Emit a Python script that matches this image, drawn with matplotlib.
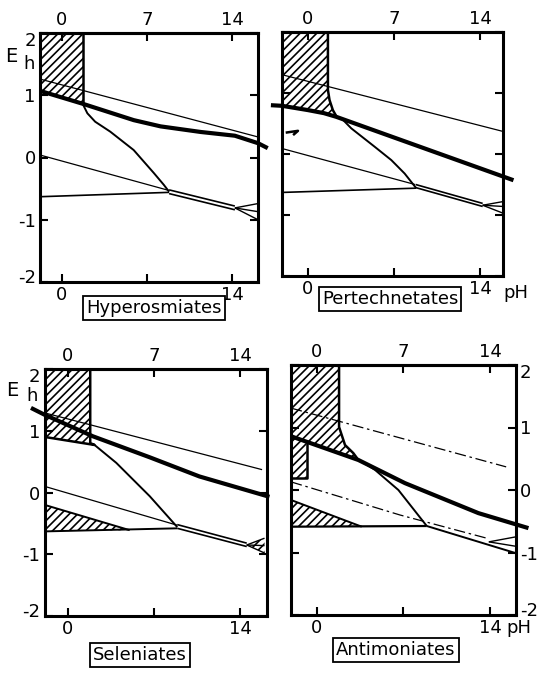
"""
Eh-pH stability diagrams of four oxo-anion families (scan redraw).
"""

import matplotlib.pyplot as plt
import matplotlib.transforms as mtransforms
from matplotlib.patches import Polygon

W, H = 537, 673

PH_TICKS = [0, 7, 14]
EH_TICKS = [-2, -1, 0, 1, 2]
EH_LABELS = ["-2", "-1", "0", "1", "2"]

# ---- Hyperosmiates (top left) ----
hyp_hatch_ph = [-1.8, 1.76, 1.76, -1.8]
hyp_hatch_eh = [2.0, 2.0, 0.84, 1.07]
hyp_thick_ph = [-1.8, 1.76, 5.9, 8.1, 11.4, 14.2, 16.1, 16.9]
hyp_thick_eh = [1.07, 0.86, 0.60, 0.50, 0.41, 0.35, 0.23, 0.15]
hyp_o2_ph = [-1.8, 16.1]
hyp_o2_eh = [1.26, 0.33]
hyp_h2_ph = [-1.8, 8.8]
hyp_h2_eh = [0.04, -0.53]
hyp_flat_ph = [-1.8, 8.8]
hyp_flat_eh = [-0.63, -0.56]
hyp_curve_ph = [1.76, 2.09, 2.73, 3.97, 5.89, 7.55, 8.37, 8.8]
hyp_curve_eh = [0.84, 0.71, 0.575, 0.415, 0.12, -0.25, -0.44, -0.55]
hyp_band_ph = [8.8, 14.2]
hyp_band_hi = [-0.52, -0.78]
hyp_band_lo = [-0.58, -0.84]
hyp_fan_ph = [14.2, 16.1]
hyp_fan_eh = [-0.81, [-0.74, -0.87, -1.0]]

# ---- Pertechnetates (top right) ----
tc_hatch_ph = [-2.1, 1.63, 1.63, 1.76, 2.03, 2.31, 1.3, 0.0, -2.1]
tc_hatch_eh = [2.0, 2.0, 1.05, 0.885, 0.72, 0.62, 0.67, 0.72, 0.79]
tc_thick_ph = [-3.0, -2.1, 0.0, 1.3, 2.3, 16.7]
tc_thick_eh = [0.80, 0.79, 0.72, 0.67, 0.61, -0.43]
tc_o2_ph = [-2.1, 15.85]
tc_o2_eh = [1.30, 0.37]
tc_h2_ph = [-2.1, 8.7]
tc_h2_eh = [0.09, -0.50]
tc_flat_ph = [-2.1, 8.8]
tc_flat_eh = [-0.63, -0.56]
tc_curve_ph = [2.8, 3.53, 5.42, 6.78, 7.86, 8.8]
tc_curve_eh = [0.57, 0.42, 0.12, -0.10, -0.32, -0.56]
tc_band_ph = [8.75, 14.2]
tc_band_hi = [-0.50, -0.81]
tc_band_lo = [-0.55, -0.86]
tc_fan_ph = [14.2, 15.85]
tc_fan_eh = [-0.84, [-0.78, -0.86, -0.97]]
tc_hook_ph = [-1.8, -0.8, -1.2]
tc_hook_eh = [0.35, 0.38, 0.31]

# ---- Seleniates (bottom left) ----
se_hatch_ph = [-1.9, 1.82, 1.82, 2.17, -1.9]
se_hatch_eh = [2.0, 2.0, 0.80, 0.77, 0.90]
se_low_ph = [-1.9, 5.03, -1.9]
se_low_eh = [-0.20, -0.61, -0.63]
se_thick_ph = [-3.0, -1.9, 2.04, 6.66, 10.7, 16.4]
se_thick_eh = [1.37, 1.26, 0.91, 0.57, 0.26, -0.07]
se_o2_ph = [-1.9, 15.8]
se_o2_eh = [1.29, 0.37]
se_h2_ph = [-1.9, 8.9]
se_h2_eh = [0.10, -0.53]
se_flat_ph = [-1.9, 8.9]
se_flat_eh = [-0.63, -0.58]
se_curve_ph = [2.17, 3.94, 6.66, 8.9]
se_curve_eh = [0.77, 0.48, -0.06, -0.56]
se_band_ph = [8.9, 14.55]
se_band_hi = [-0.52, -0.82]
se_band_lo = [-0.58, -0.875]
se_fan_ph = [14.55, 16.0]
se_fan_eh = [-0.85, [-0.74, -0.86, -0.98]]

# ---- Antimoniates (bottom right) ----
sb_hatch_ph = [-2.07, 1.81, 1.81, 1.89, 2.29, 2.96, 3.37, -0.81, -0.81, -2.07]
sb_hatch_eh = [2.0, 2.0, 1.01, 0.96, 0.72, 0.59, 0.48, 0.77, 0.19, 0.19]
sb_low_ph = [-2.07, 3.64, -2.07]
sb_low_eh = [-0.16, -0.587, -0.587]
sb_thick_ph = [-2.07, 3.37, 7.13, 13.06, 17.1]
sb_thick_eh = [0.86, 0.48, 0.11, -0.37, -0.61]
sb_o2_ph = [-2.07, 15.3]
sb_o2_eh = [1.31, 0.37]
sb_h2_ph = [-2.07, 6.73, 13.9]
sb_h2_eh = [0.13, -0.40, -0.78]
sb_flat_ph = [-2.07, 8.89]
sb_flat_eh = [-0.587, -0.576]
sb_curve_ph = [3.6, 4.72, 6.6, 8.89]
sb_curve_eh = [0.46, 0.32, 0.0, -0.576]
sb_band_ph = [8.89, 16.07]
sb_band_lo = [-0.576, -1.01]
sb_fan_ph = [13.9, 16.07]
sb_fan_eh = [-0.83, [-0.75, -0.9]]

plt.rcParams["font.family"] = "DejaVu Sans"
plt.rcParams["hatch.linewidth"] = 1.2
plt.rcParams["hatch.color"] = "black"

fig = plt.figure(figsize=(W / 100, H / 100), dpi=100)
fig.patch.set_facecolor("white")


def make_axes(box, xlim, ylabels="left", bottom_labels=("0", "", "14")):
    x0, y0, x1, y1 = box
    ax = fig.add_axes([x0 / W, 1 - y1 / H, (x1 - x0) / W, (y1 - y0) / H])
    ax.set_xlim(*xlim)
    ax.set_ylim(-2, 2)
    ax.set_xticks(PH_TICKS)
    ax.set_xticklabels(bottom_labels)
    ax.set_yticks(EH_TICKS)
    ax.set_yticklabels(EH_LABELS)
    ax.tick_params(direction="in", length=6, width=1.5, labelsize=13,
                   right=True, pad=3,
                   labelleft=(ylabels == "left"), labelright=(ylabels == "right"))
    for s in ax.spines.values():
        s.set_linewidth(2.2)
    # the end labels sit a little inside the frame in the original
    labels = ax.get_yticklabels(which="major") if ylabels == "left" else ax.yaxis.get_ticklabels()
    if ylabels:
        ticks = ax.yaxis.get_major_ticks()
        for t, dy in ((ticks[0], 6), (ticks[-1], -6)):
            lab = t.label1 if ylabels == "left" else t.label2
            lab.set_transform(lab.get_transform() +
                              mtransforms.ScaledTranslation(0, dy / 100, fig.dpi_scale_trans))
    top = ax.secondary_xaxis("top")
    top.set_xticks(PH_TICKS)
    top.set_xticklabels(["0", "7", "14"])
    top.tick_params(direction="in", length=6, width=1.5, labelsize=13, pad=3)
    top.spines["top"].set_linewidth(2.2)
    return ax


def line(ax, ph, eh, lw=1.0, **kw):
    ax.plot(ph, eh, color="black", lw=lw, solid_capstyle="butt", **kw)


def hatch(ax, ph, eh):
    ax.add_patch(Polygon(list(zip(ph, eh)), closed=True, facecolor="none",
                         edgecolor="black", lw=0, hatch="////"))


def fan(ax, fan_ph, fan_eh, lw=1.0, fill=False):
    x0, x1 = fan_ph
    e0, ends = fan_eh
    for e in ends:
        line(ax, [x0, x1], [e0, e], lw=lw)
    if fill:
        hatch(ax, [x0, x1, x1], [e0, ends[0], ends[-1]])


# Hyperosmiates
ax1 = make_axes((40, 33, 258, 282), (-1.8, 16.1))
hatch(ax1, hyp_hatch_ph, hyp_hatch_eh)
line(ax1, [1.76, 1.76], [2.0, 0.84], lw=1.8)
line(ax1, hyp_o2_ph, hyp_o2_eh, lw=0.9)
line(ax1, hyp_h2_ph, hyp_h2_eh, lw=0.9)
line(ax1, hyp_flat_ph, hyp_flat_eh, lw=1.2)
line(ax1, hyp_curve_ph, hyp_curve_eh, lw=1.4)
line(ax1, hyp_band_ph, hyp_band_hi, lw=1.2)
line(ax1, hyp_band_ph, hyp_band_lo, lw=1.2)
fan(ax1, hyp_fan_ph, hyp_fan_eh)
line(ax1, hyp_thick_ph, hyp_thick_eh, lw=3.0, clip_on=False)

# Pertechnetates
ax2 = make_axes((282, 32, 503, 276), (-2.1, 15.85), ylabels=None)
hatch(ax2, tc_hatch_ph, tc_hatch_eh)
line(ax2, tc_hatch_ph[1:6], tc_hatch_eh[1:6], lw=1.8)
line(ax2, tc_o2_ph, tc_o2_eh, lw=0.9)
line(ax2, tc_h2_ph, tc_h2_eh, lw=0.9)
line(ax2, tc_flat_ph, tc_flat_eh, lw=1.2)
line(ax2, tc_curve_ph, tc_curve_eh, lw=1.4)
line(ax2, tc_band_ph, tc_band_hi, lw=1.2)
line(ax2, tc_band_ph, tc_band_lo, lw=1.2)
fan(ax2, tc_fan_ph, tc_fan_eh)
line(ax2, tc_hook_ph, tc_hook_eh, lw=1.8)
line(ax2, tc_thick_ph, tc_thick_eh, lw=3.0, clip_on=False)

# Seleniates
ax3 = make_axes((44.5, 369, 267, 616), (-1.9, 16.2))
hatch(ax3, se_hatch_ph, se_hatch_eh)
hatch(ax3, se_low_ph, se_low_eh)
line(ax3, se_hatch_ph[1:], se_hatch_eh[1:], lw=1.8)
line(ax3, se_low_ph[:2], se_low_eh[:2], lw=1.4)
line(ax3, se_o2_ph, se_o2_eh, lw=0.9)
line(ax3, se_h2_ph, se_h2_eh, lw=0.9)
line(ax3, se_flat_ph, se_flat_eh, lw=1.4)
line(ax3, se_curve_ph, se_curve_eh, lw=1.4)
line(ax3, se_band_ph, se_band_hi, lw=1.2)
line(ax3, se_band_ph, se_band_lo, lw=1.2)
fan(ax3, se_fan_ph, se_fan_eh, fill=True)
line(ax3, se_thick_ph, se_thick_eh, lw=3.0, clip_on=False)

# Antimoniates
ax4 = make_axes((291, 365, 515.7, 615), (-2.07, 16.07), ylabels="right")
hatch(ax4, sb_hatch_ph, sb_hatch_eh)
hatch(ax4, sb_low_ph, sb_low_eh)
line(ax4, sb_hatch_ph[1:7], sb_hatch_eh[1:7], lw=1.8)
line(ax4, sb_hatch_ph[7:], sb_hatch_eh[7:], lw=1.8)
line(ax4, sb_low_ph[:2], sb_low_eh[:2], lw=1.4)
line(ax4, sb_o2_ph, sb_o2_eh, lw=0.9, ls=(0, (9, 3, 2, 3)))
line(ax4, sb_h2_ph, sb_h2_eh, lw=0.9, ls=(0, (9, 3, 2, 3)))
line(ax4, sb_flat_ph, sb_flat_eh, lw=1.6)
line(ax4, sb_curve_ph, sb_curve_eh, lw=1.4)
line(ax4, sb_band_ph, sb_band_lo, lw=1.4)
fan(ax4, sb_fan_ph, sb_fan_eh)
line(ax4, sb_thick_ph, sb_thick_eh, lw=3.0, clip_on=False)


def ftext(x, y, s, **kw):
    fig.text(x / W, 1 - y / H, s, **kw)


# Eh axis captions
ftext(11, 57, "E", fontsize=14, ha="center", va="center")
ftext(29, 64, "h", fontsize=13, ha="center", va="center")
ftext(12, 390, "E", fontsize=14, ha="center", va="center")
ftext(32, 396, "h", fontsize=13, ha="center", va="center")

# pH captions next to the bottom 14 labels
ftext(516, 293, "pH", fontsize=13, ha="center", va="center")
ftext(519, 628, "pH", fontsize=13, ha="center", va="center")

box = dict(boxstyle="square,pad=0.18", fc="white", ec="black", lw=1.3)
ftext(154, 308, "Hyperosmiates", fontsize=13, ha="center", va="center", bbox=box)
ftext(390, 299, "Pertechnetates", fontsize=13, ha="center", va="center", bbox=box)
ftext(140, 655, "Seleniates", fontsize=13, ha="center", va="center", bbox=box)
ftext(396, 650, "Antimoniates", fontsize=13, ha="center", va="center", bbox=box)

fig.savefig("out.png", dpi=100)
